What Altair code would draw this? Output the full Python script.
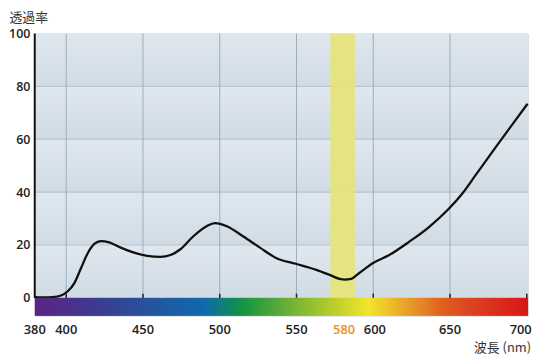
import altair as alt
import pandas as pd

# ---- data ----
wavelength = [379.5, 385, 391, 394, 396.6, 401.0, 405.3, 409.6, 414.0, 418.3, 422.5, 428.0,
              435.5, 444.2, 452.8, 461.4, 467.9, 474.4, 483.0, 491.7, 497.0, 504.6, 515.4,
              526.2, 537.0, 549.5, 562.9, 571.5, 578.0, 581.2, 585.6, 590.9, 599.6, 610.4,
              623.3, 636.3, 649.2, 657.9, 666.5, 677.3, 688.1, 700.5]
transmittance = [0.3, 0.2, 0.3, 0.5, 0.9, 2.5, 5.6, 11.2, 16.9, 20.4, 21.5, 21.0,
                 19.0, 17.1, 15.9, 15.5, 16.2, 18.4, 23.4, 27.2, 28.3, 27.1, 23.2,
                 19.0, 15.0, 12.9, 10.6, 8.7, 7.2, 6.9, 7.2, 9.4, 13.1, 16.2,
                 21.2, 26.8, 33.7, 39.4, 46.3, 55.0, 63.6, 73.4]

X0, X1 = 379.5, 700.8
x_tick_pos = [X0, 400, 450, 500, 550, 581, 601, 650, 696]
x_tick_lab = ["380", "400", "450", "500", "550", "580", "600", "650", "700"]
x_tick_col = ["#222222"] * 5 + ["#e8921e"] + ["#222222"] * 3
x_grid = [400, 450, 500, 550, 600, 650]
x_marks = [400, 450, 500, 550, 600, 650, 700]
y_ticks = [0, 20, 40, 60, 80, 100]
y_grid = [20, 40, 60, 80]
band_lo, band_hi = 572, 588
YMIN = -6.75

spec_stops = [379.5, 420, 460, 490, 515, 550, 580, 597, 620, 645, 670, 700.8]
spec_colors = ["#5c2484", "#3c3c90", "#2258a0", "#0f6aad", "#159444", "#7ab534",
               "#c9d42a", "#f2e52a", "#e9a52a", "#e0601f", "#dc3a20", "#d8161a"]

W, H = 498, 285
FONT = "Open Sans"
CJK = "Noto Sans CJK JP"

xs = alt.Scale(domain=[X0, X1], nice=False, zero=False)
ys = alt.Scale(domain=[YMIN, 100], nice=False, zero=False)
yax = alt.Axis(
    values=y_ticks, title="透過率", domain=False, ticks=False, grid=False,
    labelFont=FONT, labelFontSize=12.5, labelFontWeight=600, labelColor="#222222",
    labelPadding=5, labelFlush=False, labelOverlap=False, labelBound=False,
    titleFont=CJK, titleFontSize=13, titleFontWeight="normal", titleColor="#333333",
    titleAngle=0, titleAlign="left", titleAnchor="start", titleX=-26, titleY=-16,
    titleBaseline="middle")

curve = pd.DataFrame({"wl": wavelength, "t": transmittance})
bands = pd.DataFrame({"y0": y_ticks[:-1], "y1": y_ticks[1:], "x0": X0, "x1": X1})
hg = pd.DataFrame({"v": y_grid, "x0": X0, "x1": X1})
vg = pd.DataFrame({"v": x_grid, "y0": 0, "y1": 100})
tk = pd.DataFrame({"v": x_marks, "y0": 0, "y1": 1.6})
ll = pd.DataFrame({"v": [X0], "y0": [0], "y1": [100]})
bd = pd.DataFrame({"a": [band_lo], "b": [band_hi], "y0": [0], "y1": [100]})
starts = [X0] + list(range(380, 701))
spec = pd.DataFrame({"l": starts})
spec["l2"] = (spec["l"] + 2).clip(upper=X1)
spec["c"] = (spec["l"] + 0.5).clip(upper=X1)
spec["y0"] = YMIN
spec["y1"] = 0
xlab = pd.DataFrame({"x": x_tick_pos, "lab": x_tick_lab, "col": x_tick_col, "y": YMIN})
xt = pd.DataFrame({"x": [X1], "y": [YMIN], "t": ["波長 (nm)"]})

bg = alt.Chart(bands).mark_rect(
    color=alt.Gradient(gradient="linear",
                       stops=[alt.GradientStop(color="#e0e8ef", offset=0),
                              alt.GradientStop(color="#d0dbe4", offset=1)],
                       x1=0, x2=0, y1=0, y2=1)
).encode(
    x=alt.X("x0:Q", scale=xs, axis=None), x2="x1:Q",
    y=alt.Y("y0:Q", scale=ys, axis=yax), y2="y1:Q")

hgrid = alt.Chart(hg).mark_rule(color="#b5c5d3", strokeWidth=1.2).encode(
    y=alt.Y("v:Q", scale=ys, axis=yax),
    x=alt.X("x0:Q", scale=xs, axis=None), x2="x1:Q")

vgrid = alt.Chart(vg).mark_rule(color="#98aec1", strokeWidth=1).encode(
    x=alt.X("v:Q", scale=xs, axis=None),
    y=alt.Y("y0:Q", scale=ys, axis=yax), y2="y1:Q")

band = alt.Chart(bd).mark_rect(color="#e6e47c", opacity=0.95).encode(
    x=alt.X("a:Q", scale=xs, axis=None), x2="b:Q",
    y=alt.Y("y0:Q", scale=ys, axis=yax), y2="y1:Q")

line = alt.Chart(curve).mark_line(
    color="#111111", strokeWidth=2.3, interpolate="monotone"
).encode(
    x=alt.X("wl:Q", scale=xs, axis=None),
    y=alt.Y("t:Q", scale=ys, axis=yax))

tickmarks = alt.Chart(tk).mark_rule(color="#222222", strokeWidth=1.5).encode(
    x=alt.X("v:Q", scale=xs, axis=None),
    y=alt.Y("y0:Q", scale=ys, axis=yax), y2="y1:Q")

bar = alt.Chart(spec).mark_rect().encode(
    x=alt.X("l:Q", scale=xs, axis=None), x2="l2:Q",
    y=alt.Y("y0:Q", scale=ys, axis=yax), y2="y1:Q",
    color=alt.Color("c:Q", legend=None,
                    scale=alt.Scale(domain=spec_stops, range=spec_colors, interpolate="rgb")))

leftline = alt.Chart(ll).mark_rule(color="#111111", strokeWidth=2).encode(
    x=alt.X("v:Q", scale=xs, axis=None),
    y=alt.Y("y0:Q", scale=ys, axis=yax), y2="y1:Q")

xlabels = alt.Chart(xlab).mark_text(
    font=FONT, fontSize=13, fontWeight=600, baseline="middle", align="center", dy=14
).encode(x=alt.X("x:Q", scale=xs, axis=None),
         y=alt.Y("y:Q", scale=ys, axis=yax),
         text="lab:N",
         color=alt.Color("col:N", scale=None, legend=None))

xtitle = alt.Chart(xt).mark_text(
    font=CJK, fontSize=13, color="#333333", align="right", baseline="middle", dx=3, dy=33
).encode(x=alt.X("x:Q", scale=xs, axis=None),
         y=alt.Y("y:Q", scale=ys, axis=yax), text="t:N")

chart = alt.layer(bg, hgrid, vgrid, band, line, tickmarks, bar, leftline, xlabels, xtitle).properties(
    width=W, height=H,
    padding={"left": 27, "top": 24, "right": 4, "bottom": 42},
    autosize="none",
).configure_view(stroke=None).configure(background="white")

chart.save("out.html", embed_options={"renderer": "svg", "actions": False})
